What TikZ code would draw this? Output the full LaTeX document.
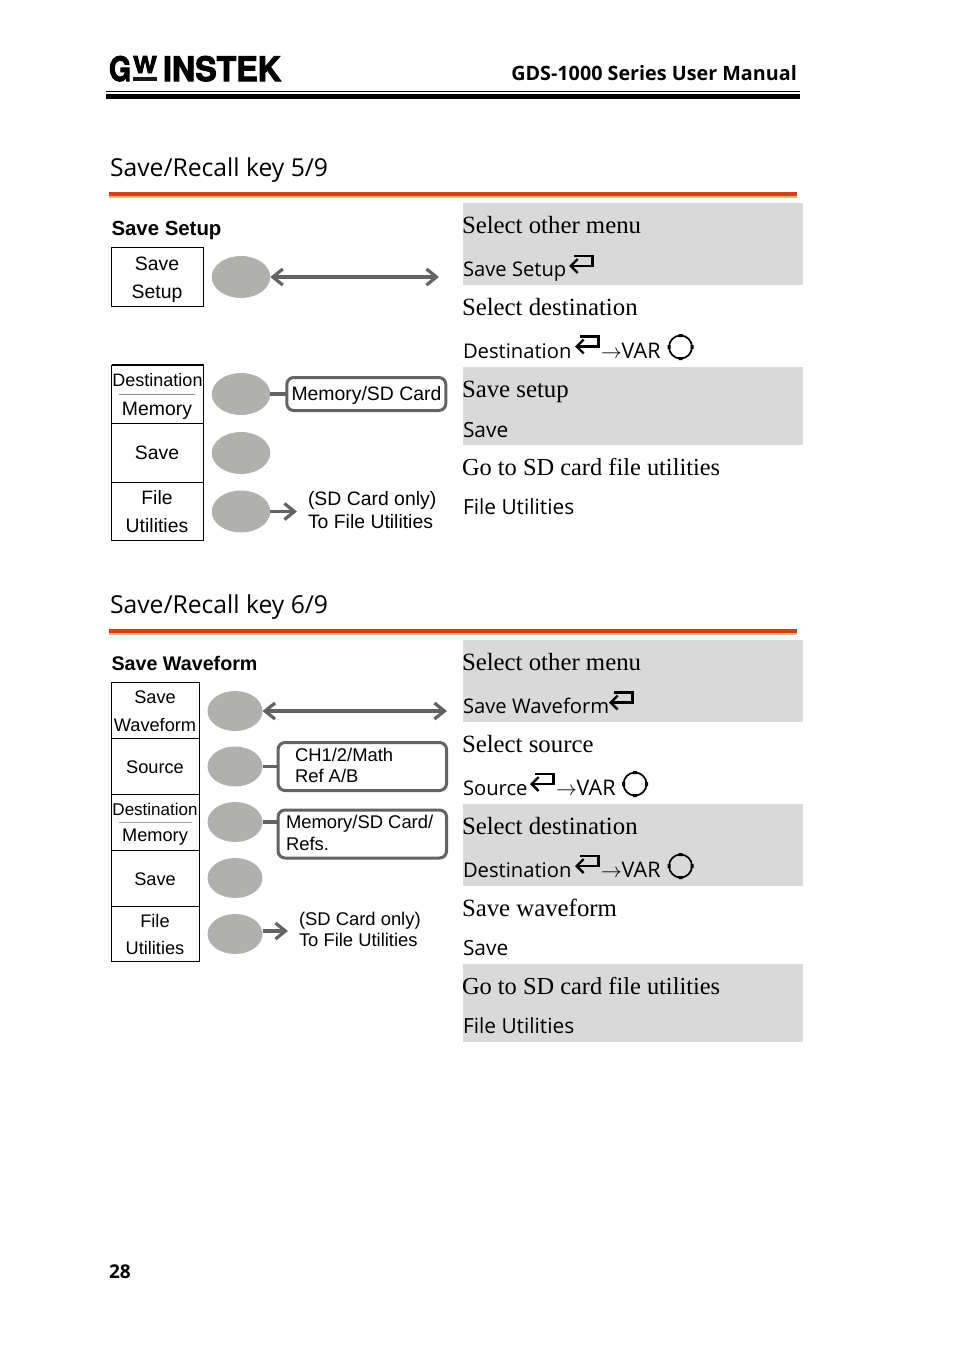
\documentclass[tikz,border=0pt]{standalone}
\usepackage{fontspec}
\usepackage{graphicx}
\setmainfont{Liberation Serif}
\newfontfamily\arialf{Liberation Sans}
\newfontfamily\lucf{Open Sans}
\newfontfamily\heavyf[BoldFeatures={FakeBold=3}]{TeX Gyre Heros}
\usetikzlibrary{arrows.meta,shapes.geometric}
\definecolor{bandgray}{HTML}{D9D9D9}
\definecolor{keygray}{HTML}{B0B0AE}
\definecolor{conn}{HTML}{636363}
\definecolor{rulered}{HTML}{DC3C1C}
\definecolor{ruleorange}{HTML}{F2B070}
\tikzset{
  x=1pt,y=-1pt,
  txt/.style={anchor=base west,inner sep=0pt,outer sep=0pt},
  ctr/.style={anchor=base,inner sep=0pt,outer sep=0pt},
  body/.style={txt,font=\fontsize{24.8}{26}\selectfont},
  bodyl/.style={txt,font=\fontsize{24.4}{26}\selectfont},
  ui/.style={txt,font=\lucf\fontsize{20.2}{24}\selectfont},
  uiw/.style={txt,font=\lucf\fontsize{20.9}{24}\selectfont},
  var/.style={txt,font=\lucf\fontsize{21.5}{24}\selectfont},
  headtitle/.style={txt,font=\lucf\fontsize{24.7}{28}\selectfont},
  boldlab/.style={txt,font=\arialf\bfseries\fontsize{20.4}{24}\selectfont},
  boldlabb/.style={txt,font=\arialf\bfseries\fontsize{19.7}{24}\selectfont},
  laba/.style={ctr,font=\arialf\fontsize{19.4}{24}\selectfont},
  labb/.style={ctr,font=\arialf\fontsize{18.2}{22}\selectfont},
  texta/.style={txt,font=\arialf\fontsize{19.4}{24}\selectfont},
  textb/.style={txt,font=\arialf\fontsize{18.4}{22}\selectfont},
  softbox/.style={draw=black,line width=1pt,fill=none,inner sep=0pt,outer sep=0pt},
  keybtn/.style={ellipse,fill=keygray,draw=none,inner sep=0pt,outer sep=0pt},
  keya/.style={keybtn,minimum width=58.5pt,minimum height=42pt},
  keyb/.style={keybtn,minimum width=55pt,minimum height=40pt},
  option/.style={draw=conn,line width=3pt,rounded corners=7pt,fill=white,inner sep=0pt,outer sep=0pt},
  link/.style={draw=conn,line width=3.4pt},
  linkarrow/.style={link,-{Straight Barb[length=10pt,width=16pt,line width=3.2pt]}},
  linkboth/.style={link,{Straight Barb[length=10pt,width=16pt,line width=3.2pt]}-{Straight Barb[length=10pt,width=16pt,line width=3.2pt]}},
  retkey/.pic={\draw[line width=2.4pt,-{Straight Barb[length=7pt,width=14pt,line width=2.4pt]}] (5,-10) -- (23.5,-10) -- (23.5,0) -- (0,0);},
  knob/.pic={\draw[line width=1.7pt] (0,0) circle[radius=11.5];
    \fill[black] (-2,-13) rectangle (2,-10) (-2,10) rectangle (2,13) (-13,-2) rectangle (-10,2) (10,-2) rectangle (13,2);}
}
\begin{document}
\begin{tikzpicture}
\useasboundingbox (0,0) rectangle (954,1349);
% header
\node[txt] (lg) at (109,81) {\resizebox{22pt}{25pt}{\heavyf\bfseries G}};
\node[txt] (lw) at (133,73) {\resizebox{24pt}{17pt}{\heavyf\bfseries W}};
\fill[black!90] (133,77) rectangle (157,81);
\node[txt] (li) at (163,81) {\resizebox{118pt}{25pt}{\heavyf\bfseries INSTEK}};
\node[anchor=base east,inner sep=0pt,font=\lucf\bfseries\fontsize{19.75}{24}\selectfont] (hd) at (797,80) {GDS-1000 Series User Manual};
\fill[black] (106,91) rectangle (800,92.3);
\fill[black] (106,94) rectangle (800,99);
\node[txt,font=\lucf\bfseries\fontsize{19}{22}\selectfont] (pg) at (109,1278) {28};
% bands
\fill[bandgray] (463,203) rectangle (803,285);
\fill[bandgray] (463,367) rectangle (803,445);
\fill[bandgray] (463,640) rectangle (803,722);
\fill[bandgray] (463,804) rectangle (803,886);
\fill[bandgray] (463,964) rectangle (803,1042);
% titles
\node[headtitle] (t1) at (110,176) {Save/Recall key 5/9};
\fill[rulered] (109,192) rectangle (797,196);
\fill[ruleorange] (109,196) rectangle (797,198);
\node[headtitle] (t2) at (110,613) {Save/Recall key 6/9};
\fill[rulered] (109,629) rectangle (797,633);
\fill[ruleorange] (109,633) rectangle (797,635);

% section 1 left
\node[boldlab] (s1) at (111.5,235) {Save Setup};
\draw[softbox] (111.5,247.5) rectangle (203.5,306);
\draw[softbox] (111.5,365) rectangle (203.5,423.5);
\draw[softbox] (111.5,423.5) rectangle (203.5,482);
\draw[softbox] (111.5,482) rectangle (203.5,540.5);
\draw[line width=1.6pt] (111.5,365) -- (203.5,365);
\draw[draw=black!45,line width=1pt] (119,394) -- (195,394);
\node[laba] at (157,270) {Save};
\node[laba] at (157,298) {Setup};
\node[ctr,font=\arialf\fontsize{18}{22}\selectfont] at (157.5,386) {Destination};
\node[laba] at (157,415) {Memory};
\node[laba] at (157,459.5) {Save};
\node[laba] at (157,504) {File};
\node[laba] at (157,532) {Utilities};
\node[keya] (a1) at (241,277) {};
\node[keya] (a2) at (241,394) {};
\node[keya] (a3) at (241,453) {};
\node[keya] (a4) at (241,511.5) {};
\coordinate (a1e) at (439,277);
\draw[linkboth] (a1.east) -- (a1e);
\node[option,minimum width=159pt,minimum height=33pt] (o1) at (366.3,394) {};
\draw[link] (a2.east) -- (o1.west);
\node[texta] at (291.5,400) {Memory/SD Card};
\coordinate (a4e) at (297,511.5);
\draw[linkarrow] (a4.east) -- (a4e);
\node[texta] at (308,505) {(SD Card only)};
\node[texta] at (308,528) {To File Utilities};

% section 1 right
\node[body] at (462,233) {Select other menu};
\node[ui] at (463,276) {Save Setup};
\pic at (569,266) {retkey};
\node[body] at (462,315) {Select destination};
\node[ui] at (463,358) {Destination};
\pic at (575,346.5) {retkey};
\node[var] at (601,358) {$\rightarrow$VAR};
\pic at (680.5,347) {knob};
\node[body] at (462,397) {Save setup};
\node[uiw] at (463,437) {Save};
\node[bodyl] at (462,475) {Go to SD card file utilities};
\node[uiw] at (463,514) {File Utilities};

% section 2 left
\node[boldlabb] (s2) at (111.5,670) {Save Waveform};
\draw[softbox] (111.5,682.5) rectangle (199.5,738.5);
\draw[softbox] (111.5,738.5) rectangle (199.5,794.5);
\draw[softbox] (111.5,794.5) rectangle (199.5,850.5);
\draw[softbox] (111.5,850.5) rectangle (199.5,906.5);
\draw[softbox] (111.5,906.5) rectangle (199.5,961.5);
\draw[draw=black!35,line width=.8pt] (118.5,822) -- (191.5,822);
\node[labb] at (155,703) {Save};
\node[labb] at (155,731) {Waveform};
\node[labb] at (155,773) {Source};
\node[ctr,font=\arialf\fontsize{17}{20}\selectfont] at (155,815) {Destination};
\node[labb] at (155,841) {Memory};
\node[labb] at (155,885) {Save};
\node[labb] at (155,927) {File};
\node[labb] at (155,954.5) {Utilities};
\node[keyb] (b1) at (235,711) {};
\node[keyb] (b2) at (235,766.5) {};
\node[keyb] (b3) at (235,822) {};
\node[keyb] (b4) at (235,878) {};
\node[keyb] (b5) at (235,934) {};
\coordinate (b1e) at (447,711);
\draw[linkboth] (b1.east) -- (b1e);
\node[option,minimum width=168.5pt,minimum height=48pt] (o2) at (362.3,766.5) {};
\draw[link] (b2.east) -- (o2.west);
\node[textb] at (295,761) {CH1/2/Math};
\node[textb] at (295,782.5) {Ref A/B};
\node[option,minimum width=168.5pt,minimum height=48pt] (o3) at (362.3,834) {};
\draw[link] (b3.east) -- (b3.east -| o3.west);
\node[textb] at (286,828) {Memory/SD Card/};
\node[textb] at (286,850) {Refs.};
\coordinate (b5e) at (288,931);
\draw[linkarrow] (b5.east |- b5e) -- (b5e);
\node[textb] at (299,925) {(SD Card only)};
\node[textb] at (299,946) {To File Utilities};

% section 2 right
\node[body] at (462,670) {Select other menu};
\node[ui] at (463,713) {Save Waveform};
\pic at (609,702.5) {retkey};
\node[body] at (462,752) {Select source};
\node[ui] at (463,795) {Source};
\pic at (530,784) {retkey};
\node[var] at (556,795) {$\rightarrow$VAR};
\pic at (635,784) {knob};
\node[body] at (462,834) {Select destination};
\node[ui] at (463,877) {Destination};
\pic at (575,866) {retkey};
\node[var] at (601,877) {$\rightarrow$VAR};
\pic at (680.5,866) {knob};
\node[body] at (462,916) {Save waveform};
\node[uiw] at (463,955) {Save};
\node[bodyl] at (462,994) {Go to SD card file utilities};
\node[uiw] at (463,1033) {File Utilities};
\end{tikzpicture}
\end{document}
